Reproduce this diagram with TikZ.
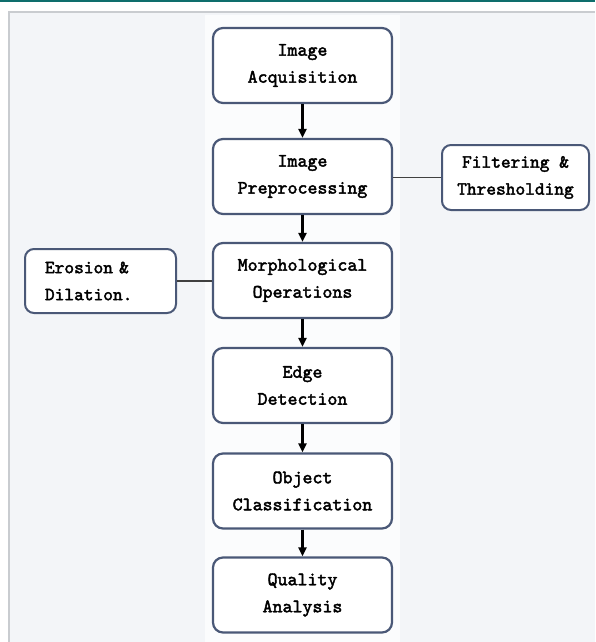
\documentclass[tikz,border=0pt]{standalone}
\usepackage{fontspec}
\newfontfamily\boxfont{lmmono10-regular.otf}[FakeBold=2.2]
\usetikzlibrary{arrows.meta}
\definecolor{tealtop}{HTML}{0E6E6C}
\definecolor{framegray}{HTML}{C9CCD0}
\definecolor{bgpanel}{HTML}{F3F5F8}
\definecolor{boxedge}{HTML}{4A5877}
\tikzset{
  stepbox/.style={draw=boxedge, line width=2.2pt, rounded corners=10pt, fill=white,
    minimum width=179pt, minimum height=75pt, align=center,
    font=\boxfont\fontsize{19}{27}\selectfont, inner sep=0pt},
  sidebox/.style={draw=boxedge, line width=2pt, rounded corners=9pt, fill=white,
    minimum height=65pt, font=\boxfont\fontsize{18.5}{27}\selectfont, inner ysep=0pt},
  flow/.style={draw=black, line width=2.3pt, -{Triangle[length=9pt,width=8pt]}},
  link/.style={draw=black!75, line width=1.3pt}
}
\begin{document}
\begin{tikzpicture}[x=1pt,y=-1pt]
\useasboundingbox (0,0) rectangle (595,642);
\fill[white] (0,0) rectangle (595,642);
\fill[bgpanel] (9,12) rectangle (595,642);
\fill[white!70!bgpanel] (205,15) rectangle (400,642);
\draw[framegray, line width=1.2pt] (9,642) -- (9,12) -- (595,12);
\fill[tealtop] (0,0) rectangle (595,2.5);

\node[stepbox] (acq) at (302.5,65.5) {Image\\Acquisition};
\node[stepbox] (pre) at (302.5,176.5) {Image\\Preprocessing};
\node[stepbox] (morph) at (302.5,280.5) {Morphological\\Operations};
\node[stepbox] (edge) at (302.5,385.5) {Edge\\Detection};
\node[stepbox] (obj) at (302.5,491) {Object\\Classification};
\node[stepbox] (qual) at (302.5,595) {Quality\\Analysis};

\node[sidebox, minimum width=147pt, align=center, inner xsep=0pt] (filt) at (515.5,177.5) {Filtering \&\\Thresholding};
\node[sidebox, text width=111pt, inner xsep=20pt, align=left, minimum height=64pt] (eros) at (100.5,281) {Erosion \&\\Dilation.};

\draw[flow] (acq) -- (pre);
\draw[flow] (pre) -- (morph);
\draw[flow] (morph) -- (edge);
\draw[flow] (edge) -- (obj);
\draw[flow] (obj) -- (qual);

\draw[link] (filt.west) -- (filt.west -| pre.east);
\draw[link] (eros.east) -- (eros.east -| morph.west);
\end{tikzpicture}
\end{document}
